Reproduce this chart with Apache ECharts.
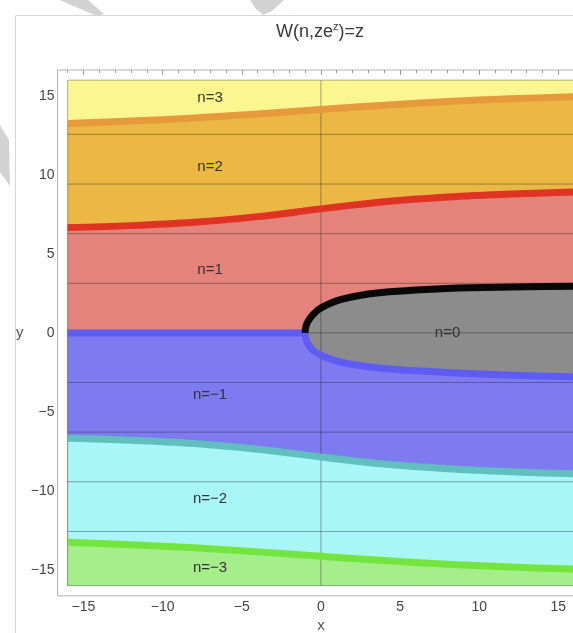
<!DOCTYPE html>
<html>
<head>
<meta charset="utf-8">
<script src="https://cdn.jsdelivr.net/npm/echarts@6/dist/echarts.min.js"></script>
<style>
  html, body { margin: 0; padding: 0; background: #fff; }
  #chart { width: 573px; height: 633px; }
</style>
</head>
<body>
<div id="chart"></div>
<script>
// Sample abscissae shared by the horizontal branch boundaries
const xs = [-16, -12, -8, -4, 0, 4, 8, 12, 16];
// Boundary between branches n=2 and n=3
const b23 = [13.25, 13.41, 13.6, 13.86, 14.14, 14.41, 14.64, 14.82, 14.95];
// Boundary between branches n=1 and n=2
const b12 = [6.67, 6.79, 7.0, 7.36, 7.85, 8.3, 8.6, 8.79, 8.92];
// Boundary between branches n=-1 and n=-2
const bm12 = [-6.67, -6.79, -7.0, -7.36, -7.85, -8.3, -8.6, -8.79, -8.92];
// Boundary between branches n=-2 and n=-3
const bm23 = [-13.25, -13.41, -13.6, -13.86, -14.14, -14.41, -14.64, -14.82, -14.95];
// Branch cut along the negative real axis up to the branch point
const cutX = [-16, -1.0];
const cutY = [0, 0];
// Principal-branch (n=0) boundary: upper arc and lower arc, from the branch point outwards
const n0UpperX = [-1.0, -0.97, -0.88, -0.71, -0.46, -0.11, 0.42, 1.23, 2.62, 4.32, 6.66, 9.4, 13.0, 16];
const n0UpperY = [0, 0.3, 0.6, 0.9, 1.2, 1.5, 1.8, 2.1, 2.4, 2.6, 2.75, 2.85, 2.92, 2.955];
const n0LowerX = [-1.0, -0.95, -0.82, -0.6, -0.3, 0.2, 0.9, 2.0, 4.0, 6.0, 8.2, 12.0, 16];
const n0LowerY = [0, -0.35, -0.7, -1.0, -1.25, -1.5, -1.75, -2.0, -2.25, -2.4, -2.52, -2.68, -2.78];
// Reference lines
const gridY = [-12.57, -9.42, -6.28, -3.14, 0, 3.14, 6.28, 9.42, 12.57];
const gridX = [0];
// Region labels
const regionLabels = ['n=3', 'n=2', 'n=1', 'n=0', 'n=\u22121', 'n=\u22122', 'n=\u22123'];
const labelX = [-7, -7, -7, 8, -7, -7, -7];
const labelY = [14.9, 10.5, 4.0, 0, -3.9, -10.5, -14.9];
// Frame ticks
const majorTicks = [-15, -10, -5, 0, 5, 10, 15];
const minorTicks = [-16, -14, -13, -12, -11, -9, -8, -7, -6, -4, -3, -2, -1,
                    1, 2, 3, 4, 6, 7, 8, 9, 11, 12, 13, 14, 16];

const REG = 16;       // extent of the coloured square
const PAD = 16.64;    // frame extent (plot range padding)
const FONT = '"Liberation Sans", Arial, Helvetica, sans-serif';

const col = {
  n3: '#fbf68f', b23: '#e79a3c', n2: '#ebb845', b12: '#df3324', n1: '#e3837b',
  n0: '#8c8c8c', black: '#080808', blueBand: '#5f5cf3', nm1: '#7e7bf1',
  tealBand: '#62bfbf', nm2: '#a9f6f8', greenBand: '#74e53f', nm3: '#a6ee8c'
};

const pairs = (ax, ay) => ax.map((x, i) => [x, ay[i]]);
const fmt = v => (v < 0 ? '\u2212' + (-v) : String(v));

function fillSeries(data, color) {
  return {
    type: 'line', data: data, smooth: 0.35, symbol: 'none', z: 1, silent: true,
    lineStyle: { width: 0, opacity: 0 },
    areaStyle: { color: color, opacity: 1, origin: -REG }
  };
}
function bandSeries(data, color, smooth) {
  return {
    type: 'line', data: data, smooth: smooth, symbol: 'none', z: 4, silent: true,
    lineStyle: { width: 7, color: color, cap: 'butt', join: 'round' }
  };
}

function makeXAxis(position, ticks, len, withLabels) {
  return {
    type: 'value', min: -PAD, max: PAD, position: position,
    axisLine: { show: false }, splitLine: { show: false },
    axisTick: { show: true, inside: true, length: len, customValues: ticks,
                lineStyle: { color: '#9a9a9a', width: 1 } },
    axisLabel: withLabels ? { show: true, customValues: ticks, formatter: fmt,
                              color: '#444', fontSize: 14, fontFamily: FONT, margin: 4 }
                          : { show: false },
    name: withLabels ? 'x' : '', nameLocation: 'middle', nameGap: 23,
    nameTextStyle: { color: '#555', fontSize: 15, fontFamily: FONT }
  };
}
function makeYAxis(position, ticks, len, withLabels) {
  return {
    type: 'value', min: -PAD, max: PAD, position: position,
    axisLine: { show: false }, splitLine: { show: false },
    axisTick: { show: true, inside: true, length: len, customValues: ticks,
                lineStyle: { color: '#9a9a9a', width: 1 } },
    axisLabel: withLabels ? { show: true, customValues: ticks, formatter: fmt,
                              color: '#444', fontSize: 14, fontFamily: FONT, margin: 3 }
                          : { show: false },
    name: withLabels ? 'y' : '', nameLocation: 'middle', nameGap: 34, nameRotate: 0,
    nameTextStyle: { color: '#555', fontSize: 15, fontFamily: FONT }
  };
}

const chart = echarts.init(document.getElementById('chart'), null, { renderer: 'canvas' });

const n0Polygon = pairs(n0UpperX, n0UpperY).concat(pairs(n0LowerX, n0LowerY).reverse());

const option = {
  animation: false,
  backgroundColor: '#ffffff',
  grid: {
    left: 57.5, top: 70, width: 526.8, height: 525.8,
    show: true, borderColor: '#b0b0b0', borderWidth: 1, backgroundColor: 'transparent',
    containLabel: false, outerBoundsMode: 'none'
  },
  xAxis: [
    makeXAxis('bottom', majorTicks, 5, true),
    makeXAxis('bottom', minorTicks, 3, false),
    makeXAxis('top', majorTicks, 5, false),
    makeXAxis('top', minorTicks, 3, false)
  ],
  yAxis: [
    makeYAxis('left', majorTicks, 5, true),
    makeYAxis('left', minorTicks, 3, false)
  ],
  graphic: [
    // page card outline
    { type: 'polyline', silent: true, z: -10,
      shape: { points: [[15.5, 700], [15.5, 15.5], [700, 15.5]] },
      style: { stroke: '#d6d6d6', lineWidth: 1, fill: null } },
    // faint grey strokes along the page edges
    { type: 'polygon', silent: true, z: -9,
      shape: { points: [[60, 0], [88, 0], [104, 14], [97, 16], [78, 8]] },
      style: { fill: '#d2d2d2' } },
    { type: 'polygon', silent: true, z: -9,
      shape: { points: [[250, 0], [284, 0], [272, 11], [263, 15], [256, 9]] },
      style: { fill: '#d2d2d2' } },
    { type: 'polygon', silent: true, z: -9,
      shape: { points: [[0, 125], [9, 140], [10, 186], [0, 172]] },
      style: { fill: '#d2d2d2' } },
    // title
    { type: 'text', x: 320, y: 32, silent: true,
      style: {
        text: '{a|W(n,ze}{s|z}{a|)=z}', align: 'center', verticalAlign: 'middle',
        rich: {
          a: { fontSize: 18, fontFamily: FONT, fill: '#3a3a3a', lineHeight: 22 },
          s: { fontSize: 11, fontFamily: FONT, fill: '#3a3a3a', verticalAlign: 'top', lineHeight: 22, padding: [0, 0, 8, 0] }
        }
      } }
  ],
  series: [
    // branch regions, painted from top to bottom
    fillSeries([[-REG, REG], [REG, REG]], col.n3),
    fillSeries(pairs(xs, b23), col.n2),
    fillSeries(pairs(xs, b12), col.n1),
    fillSeries([[-REG, 0], [REG, 0]], col.nm1),
    fillSeries(pairs(xs, bm12), col.nm2),
    fillSeries(pairs(xs, bm23), col.nm3),
    // principal branch region
    {
      type: 'custom', z: 2, silent: true, clip: true,
      data: n0Polygon,
      renderItem: function (params, api) {
        if (params.dataIndex !== 0) return null;
        const pts = n0Polygon.map(p => api.coord(p));
        return { type: 'polygon', shape: { points: pts, smooth: 0 }, style: { fill: col.n0 } };
      }
    },
    // reference lines and the border of the coloured square
    {
      type: 'custom', z: 3, silent: true, clip: false,
      data: gridY.map(v => [v]),
      renderItem: function (params, api) {
        const y = gridY[params.dataIndex];
        const a = api.coord([-REG, y]), b = api.coord([REG, y]);
        const kids = [{ type: 'line', shape: { x1: a[0], y1: a[1], x2: b[0], y2: b[1] },
                        style: { stroke: 'rgba(30,30,30,0.38)', lineWidth: 1 } }];
        if (params.dataIndex === 0) {
          gridX.forEach(x => {
            const c = api.coord([x, -REG]), d = api.coord([x, REG]);
            kids.push({ type: 'line', shape: { x1: c[0], y1: c[1], x2: d[0], y2: d[1] },
                        style: { stroke: 'rgba(30,30,30,0.38)', lineWidth: 1 } });
          });
          const tl = api.coord([-REG, REG]), br = api.coord([REG, -REG]);
          kids.push({ type: 'rect', shape: { x: tl[0], y: tl[1], width: br[0] - tl[0], height: br[1] - tl[1] },
                      style: { stroke: 'rgba(60,60,60,0.4)', lineWidth: 1, fill: null } });
        }
        return { type: 'group', children: kids };
      }
    },
    // boundary bands
    bandSeries(pairs(xs, b23), col.b23, 0.35),
    bandSeries(pairs(xs, b12), col.b12, 0.35),
    bandSeries(pairs(xs, bm12), col.tealBand, 0.35),
    bandSeries(pairs(xs, bm23), col.greenBand, 0.35),
    bandSeries(pairs(cutX, cutY), col.blueBand, false),
    bandSeries(pairs(n0LowerX, n0LowerY), col.blueBand, 0.3),
    bandSeries(pairs(n0UpperX, n0UpperY), col.black, 0.3),
    // region labels
    {
      type: 'custom', z: 6, silent: true, clip: false,
      data: labelX.map((x, i) => [x, labelY[i]]),
      renderItem: function (params, api) {
        const p = api.coord([api.value(0), api.value(1)]);
        return { type: 'text', x: p[0], y: p[1],
                 style: { text: regionLabels[params.dataIndex], align: 'center', verticalAlign: 'middle',
                          fill: '#333', fontSize: 15, fontFamily: FONT } };
      }
    }
  ]
};
chart.setOption(option);
</script>
</body>
</html>
